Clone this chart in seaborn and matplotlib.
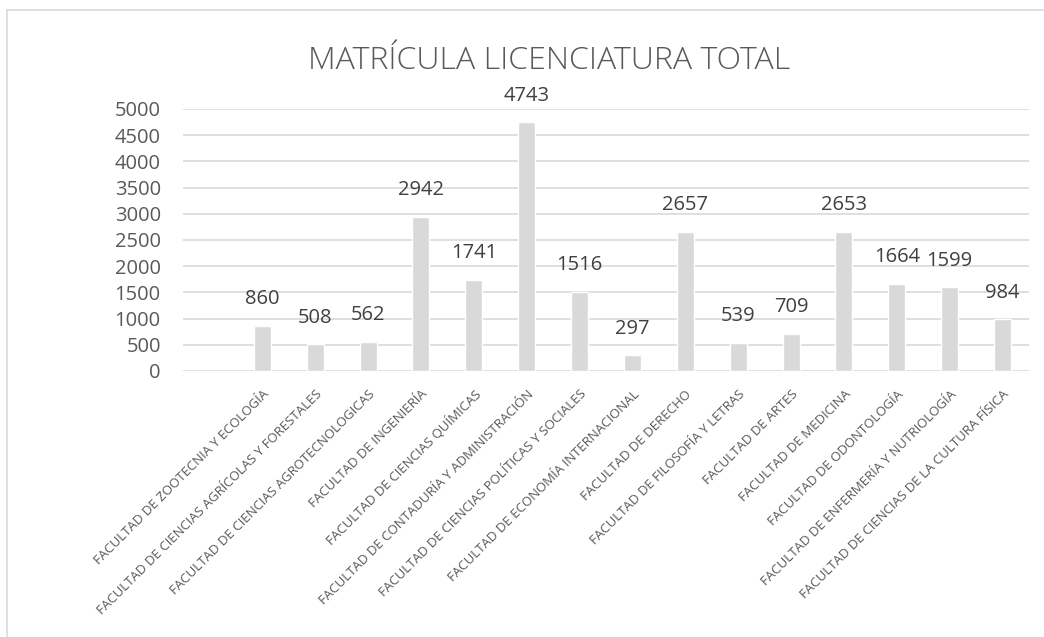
import matplotlib
matplotlib.use("Agg")
import matplotlib.pyplot as plt
import seaborn as sns
import pandas as pd
from matplotlib.lines import Line2D

facultades = [
    "FACULTAD DE ZOOTECNIA Y ECOLOGÍA",
    "FACULTAD DE CIENCIAS AGRÍCOLAS Y FORESTALES",
    "FACULTAD DE CIENCIAS AGROTECNOLOGICAS",
    "FACULTAD DE INGENIERÍA",
    "FACULTAD DE CIENCIAS QUÍMICAS",
    "FACULTAD DE CONTADURÍA Y ADMINISTRACIÓN",
    "FACULTAD DE CIENCIAS POLÍTICAS Y SOCIALES",
    "FACULTAD DE ECONOMÍA INTERNACIONAL",
    "FACULTAD DE DERECHO",
    "FACULTAD DE FILOSOFÍA Y LETRAS",
    "FACULTAD DE ARTES",
    "FACULTAD DE MEDICINA",
    "FACULTAD DE ODONTOLOGÍA",
    "FACULTAD DE ENFERMERÍA Y NUTRIOLOGÍA",
    "FACULTAD DE CIENCIAS DE LA CULTURA FÍSICA",
]
matricula = [860, 508, 562, 2942, 1741, 4743, 1516, 297, 2657, 539, 709, 2653, 1664, 1599, 984]
y_ticks = [0, 500, 1000, 1500, 2000, 2500, 3000, 3500, 4000, 4500, 5000]
titulo = "MATRÍCULA LICENCIATURA TOTAL"

sns.set_theme(style="white")
plt.rcParams["font.family"] = ["Open Sans", "DejaVu Sans"]

TXT = "#595959"
GRID = "#d9d9d9"
BAR = "#d9d9d9"

df = pd.DataFrame({"facultad": facultades, "matricula": matricula})
order = [""] + facultades

fig = plt.figure(figsize=(10.44, 6.37), dpi=100)
ax = fig.add_axes([0.1753, 0.4176, 0.9856 - 0.1753, 0.8289 - 0.4176])

sns.barplot(data=df, x="facultad", y="matricula", order=order, color=BAR,
            width=0.32, saturation=1, ax=ax, zorder=3)

ax.set_ylim(0, 5000)
ax.set_yticks(y_ticks)
ax.set_yticklabels([str(v) for v in y_ticks], fontsize=14.5, color=TXT)
ax.yaxis.grid(True, color=GRID, linewidth=1.2, zorder=0)
ax.set_axisbelow(True)
for s in ax.spines.values():
    s.set_visible(False)
ax.tick_params(axis="y", length=0, pad=16)
ax.tick_params(axis="x", length=0, pad=12)
ax.set_xlabel("")
ax.set_ylabel("")
ax.set_xticks(range(len(order)))
ax.set_xticklabels(order, rotation=45, ha="right", rotation_mode="anchor",
                   fontsize=9.5, color=TXT)

for cont in ax.containers:
    ax.bar_label(cont, labels=[str(v) for v in matricula], padding=12,
                 fontsize=14.5, color="#404040")

fig.text(0.526, 0.905, titulo, ha="center", va="center", fontsize=23,
         color=TXT, fontweight="light")

fig.add_artist(Line2D([0.0067, 1.0], [0.984, 0.984], transform=fig.transFigure,
                      color=GRID, linewidth=1.2))
fig.add_artist(Line2D([0.0067, 0.0067], [0.0, 0.984], transform=fig.transFigure,
                      color=GRID, linewidth=1.2))

fig.savefig("out.png", dpi=100)
